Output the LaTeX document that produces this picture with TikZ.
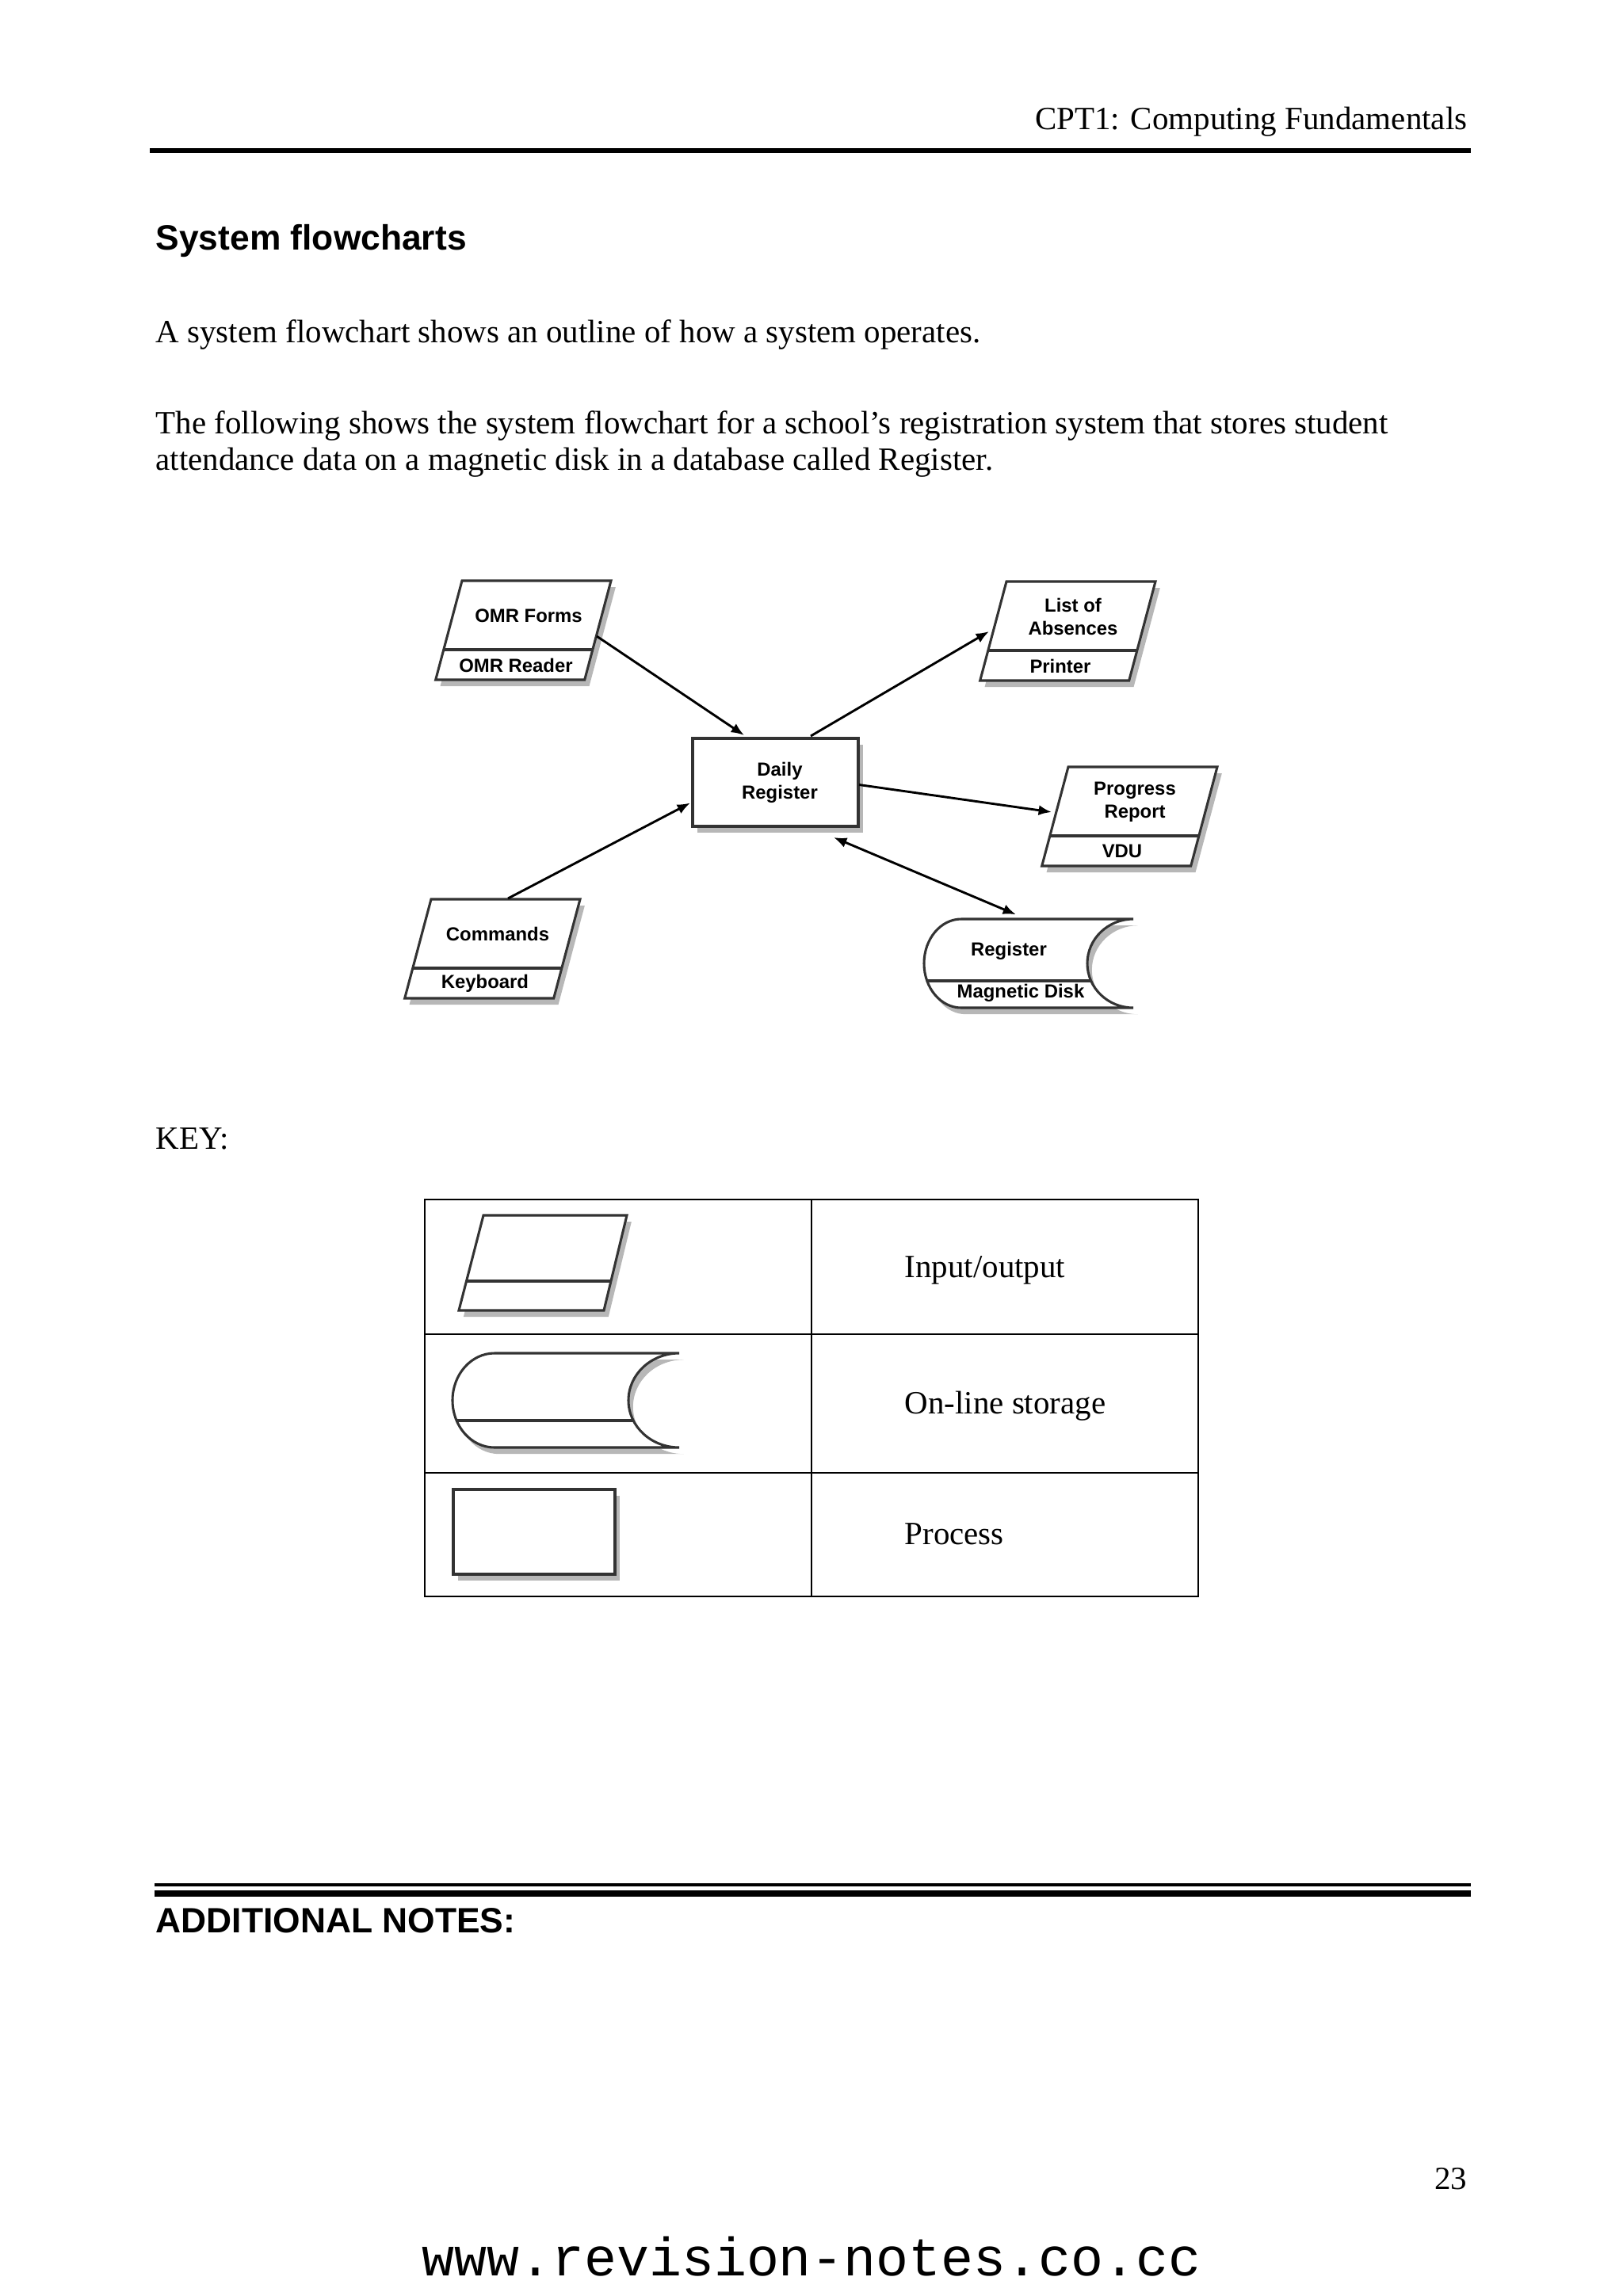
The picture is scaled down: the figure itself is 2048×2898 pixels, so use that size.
\documentclass[tikz,border=0pt]{standalone}
\usepackage{fontspec}
\setmainfont{Liberation Serif}
\setsansfont{Liberation Sans}
\setmonofont{Liberation Mono}
\usetikzlibrary{
  arrows.meta,
  calc,
  positioning,
  shadows,
}
\newcommand{\pu}{0.293pt}
\tikzset{
  >={Latex[length=4.8pt,width=3.8pt]},
  flowline/.style={draw=black!80, line width=0.9pt},
  flowshadow/.style={drop shadow={shadow xshift=1.7pt, shadow yshift=-2.4pt, fill=black!40, opacity=.7}},
  flowfont/.style={font=\sffamily\bfseries\fontsize{7}{8.5}\selectfont, align=center, inner sep=0pt},
  flowbox/.style={rectangle, flowline, fill=white, flowshadow, flowfont, outer sep=0pt},
  flowarrow/.style={line width=0.85pt},
  pagetext/.style={inner sep=0pt, font=\fontsize{12}{14}\selectfont},
  headtext/.style={inner sep=0pt, font=\sffamily\bfseries\fontsize{13}{15}\selectfont},
}
% input/output symbol: #1 data node, #2 device node, #3 top left corner, #4 data, #5 device
\newcommand{\iobox}[5]{%
  \draw[flowline, fill=white, flowshadow] #3 -- ++(188,0) -- ++(-33.3,125) -- ++(-188,0) -- cycle;
  \draw[flowline] ($#3+(-23.2,87)$) -- ++(188,0);
  \node[flowfont] (#1) at ($#3+(84,44)$) {#4};
  \node[flowfont] (#2) at ($#3+(68,106.5)$) {#5};
}

\begin{document}
\begin{tikzpicture}[x=\pu, y=-\pu]

  \useasboundingbox[fill=white] (0,0) rectangle (2048,2898);

  % page head
  \node[pagetext, anchor=base east] (header) at (1852,163) {CPT1: Computing Fundamentals};
  \draw[line width=1.5pt] (189,190) -- (1856,190);
  \node[headtext, anchor=base west] (title) at (196,315) {System flowcharts};
  \node[pagetext, anchor=base west] (intro) at (196,432) {A system flowchart shows an outline of how a system operates.};
  \node[pagetext, anchor=base west] (para1) at (196,547) {The following shows the system flowchart for a school’s registration system that stores student};
  \node[pagetext, anchor=base west] (para2) at (196,593) {attendance data on a magnetic disk in a database called Register.};

  % flowchart
  \node[flowbox, minimum width=209*\pu, minimum height=111*\pu] (daily) at (978.5,987.5) {};
  \node[flowfont] (dailytext) at (984,988) {Daily\\Register};

  \iobox{omrforms}{omrreader}{(583,733)}{OMR Forms}{OMR Reader}
  \iobox{absences}{printer}{(1270,734)}{List of\\Absences}{Printer}
  \iobox{progress}{vdu}{(1348,968)}{Progress\\Report}{VDU}
  \iobox{commands}{keyboard}{(544,1135)}{Commands}{Keyboard}

  % on-line storage
  \draw[flowline, fill=white, flowshadow] (1213,1160) -- (1430,1160)
    .. controls (1398,1160) and (1372,1185.1) .. (1372,1216)
    .. controls (1372,1246.9) and (1398,1272) .. (1430,1272) -- (1213,1272)
    .. controls (1187,1272) and (1166,1246.9) .. (1166,1216)
    .. controls (1166,1185.1) and (1187,1160) .. (1213,1160) -- cycle;
  \draw[flowline] (1170,1238) -- (1377,1238);
  \node[inner sep=0pt, minimum width=264*\pu, minimum height=112*\pu] (regstore) at (1298,1216) {};
  \node[flowfont] (register) at (1273,1200) {Register};
  \node[flowfont] (magdisk) at (1288,1253) {Magnetic Disk};

  \draw[flowarrow, ->] ($(omrforms)+(86,26)$) -- ($(daily.north west)+(65,-4)$);
  \draw[flowarrow, ->] ($(daily.north east)+(-60,-3)$) -- ($(absences)+(-106,19)$);
  \draw[flowarrow, ->] ($(daily.east)+(1,3)$) -- ($(progress)+(-105,13)$);
  \draw[flowarrow, <->] ($(daily.south east)+(-31,14)$) -- ($(regstore.north)+(-16,-5)$);
  \draw[flowarrow, ->] ($(commands)+(13,-45)$) -- ($(daily.west)+(-3,26)$);

  % key
  \node[pagetext, anchor=base west] (key) at (196,1450) {KEY:};
  \draw[line width=0.6pt] (536,1514) rectangle (1512,2015);
  \draw[line width=0.6pt] (1024,1514) -- (1024,2015);
  \draw[line width=0.6pt] (536,1684) -- (1512,1684);
  \draw[line width=0.6pt] (536,1859) -- (1512,1859);

  \draw[flowline, fill=white, flowshadow] (610,1534) -- (791,1534) -- (762,1654) -- (579,1654) -- cycle;
  \draw[flowline] (589,1617) -- (771,1617);

  \draw[flowline, fill=white, flowshadow] (624,1708) -- (857,1708)
    .. controls (821.7,1708) and (793,1734.6) .. (793,1767.5)
    .. controls (793,1800.4) and (821.7,1827) .. (857,1827) -- (624,1827)
    .. controls (594.7,1827) and (571,1800.4) .. (571,1767.5)
    .. controls (571,1734.6) and (594.7,1708) .. (624,1708) -- cycle;
  \draw[flowline] (576,1793) -- (799,1793);

  \node[flowbox, minimum width=204*\pu, minimum height=107*\pu] (keyproc) at (674,1933.5) {};

  \node[pagetext, anchor=base west] (keyiotext) at (1141,1612) {Input/output};
  \node[pagetext, anchor=base west] (keystoretext) at (1141,1784) {On-line storage};
  \node[pagetext, anchor=base west] (keyproctext) at (1141,1949) {Process};

  % page foot
  \draw[line width=0.9pt] (195,2379) -- (1856,2379);
  \draw[line width=2.6pt] (195,2390) -- (1856,2390);
  \node[headtext, anchor=base west] (notes) at (196,2439) {ADDITIONAL NOTES:};
  \node[pagetext, anchor=base east] (pagenum) at (1852,2763) {23};
  \node[inner sep=0pt, anchor=base, font=\ttfamily\fontsize{20}{24}\selectfont] (url) at (1024,2872) {www.revision-notes.co.cc};

\end{tikzpicture}
\end{document}
